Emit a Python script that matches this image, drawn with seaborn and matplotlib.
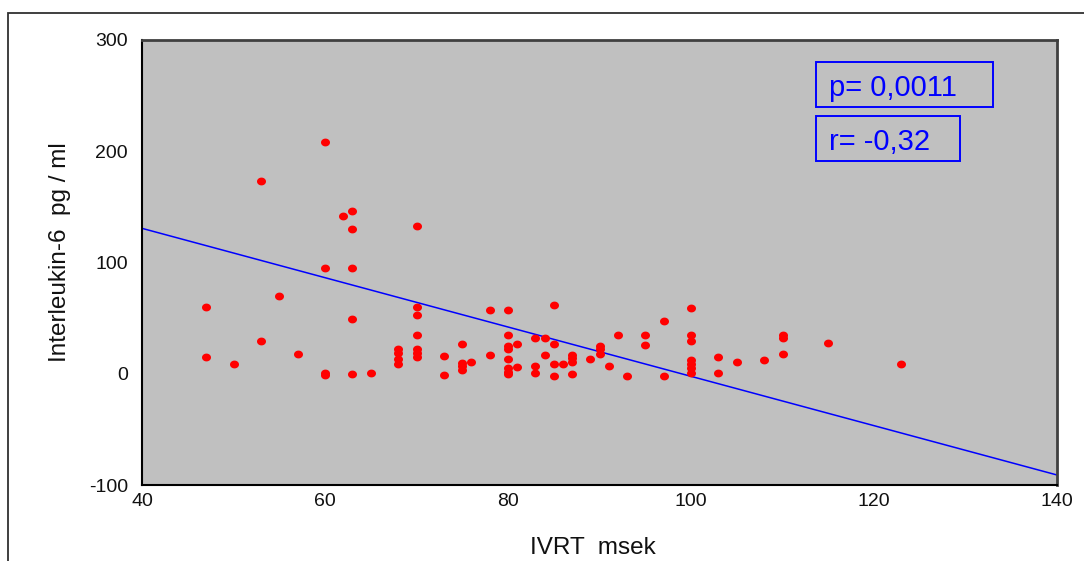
import numpy as np
import pandas as pd
import matplotlib
matplotlib.use("Agg")
import matplotlib.pyplot as plt
from matplotlib.patches import Rectangle
from matplotlib.path import Path
import seaborn as sns

# ---- data ----
ivrt = [60, 53, 62, 63, 63, 70, 60, 63, 55, 47, 63, 70, 70, 70, 53, 47, 50, 57,
        68, 68, 68, 68, 70, 70, 70, 60, 60, 63, 65,
        73, 73, 75, 75, 75, 75, 76, 78, 78, 80, 80, 80, 80, 80, 80, 80, 80,
        81, 81, 83, 83, 83, 84, 84, 85, 85, 85, 85, 86, 87, 87, 87, 87, 89,
        90, 90, 90, 91, 92, 93,
        95, 95, 97, 97, 100, 100, 100, 100, 100, 100, 100, 103, 103, 105, 108,
        110, 110, 110, 115, 123]
il6 = [208, 173, 142, 146, 130, 133, 95, 95, 70, 60, 49, 60, 53, 35, 29, 15, 9, 18,
       22, 19, 13, 9, 22, 19, 15, 1, -1, 0, 1,
       16, -1.5, 27, 10, 7, 3, 11, 57, 17, 57, 35, 25, 22, 13, 5, 2, 0,
       27, 6, 32, 7, 1, 32, 17, 62, 27, 9, -2, 9, 17, 14, 11, 0, 13,
       25, 22, 18, 7, 35, -2,
       35, 26, 47, -2, 59, 35, 29, 12, 9, 5, 1, 15, 1, 11, 12,
       35, 32, 18, 28, 9]

line_x = [40, 140]
line_y = [130.7, -91]

x_ticks = [40, 60, 80, 100, 120, 140]
y_ticks = [-100, 0, 100, 200, 300]
x_label = "IVRT  msek"
y_label = "Interleukin-6  pg / ml"
stat_p = "p= 0,0011"
stat_r = "r= -0,32"

df = pd.DataFrame({"IVRT": ivrt, "IL6": il6})
line_df = pd.DataFrame({"x": line_x, "y": line_y})

sns.set_theme(style="white")
plt.rcParams["font.family"] = ["Liberation Sans", "DejaVu Sans"]
plt.rcParams["axes.unicode_minus"] = False

W, H = 1084, 561
fig = plt.figure(figsize=(W / 100, H / 100), dpi=100)
L, R, T, B = 142, 1057, 40, 485
ax = fig.add_axes([L / W, 1 - B / H, (R - L) / W, (B - T) / H])
ax.set_facecolor("#c0c0c0")

# outer frame (top and left edges visible)
fig.patches.append(Rectangle((8 / W, -0.1), 1.2, (H - 13) / H + 0.1,
                             transform=fig.transFigure, fill=False,
                             edgecolor="#303030", linewidth=1.3))

# elliptical marker
t = np.linspace(0, 2 * np.pi, 40)
ell = Path(np.column_stack([1.15 * np.cos(t), np.sin(t)]), closed=True)

sns.lineplot(data=line_df, x="x", y="y", ax=ax, color="#0000ff", linewidth=1.1)
sns.scatterplot(data=df, x="IVRT", y="IL6", ax=ax, color="#ff0000",
                marker=ell, s=42, linewidth=0, zorder=3)

ax.set_xlim(40, 140)
ax.set_ylim(-100, 300)
ax.set_xticks(x_ticks)
ax.set_yticks(y_ticks)
ax.tick_params(axis="both", length=0, labelsize=14, colors="#111111")
ax.tick_params(axis="x", pad=6)
ax.tick_params(axis="y", pad=10)

ax.set_xlabel(x_label, fontsize=17.5, color="#111111")
ax.set_ylabel(y_label, fontsize=17.5, color="#111111")
ax.xaxis.label.set_va("center")
ax.yaxis.label.set_va("center")
ax.xaxis.set_label_coords((593 - L) / (R - L), (B - 548) / (B - T))
ax.yaxis.set_label_coords((60 - L) / (R - L), (B - 252) / (B - T))

for side in ["left", "bottom"]:
    ax.spines[side].set_color("black")
    ax.spines[side].set_linewidth(1.5)
for side in ["top", "right"]:
    ax.spines[side].set_color("#404040")
    ax.spines[side].set_linewidth(2)

# stats boxes (pixel-based placement)
def box(x0, y0, x1, y1, text):
    fig.patches.append(Rectangle((x0 / W, 1 - y1 / H), (x1 - x0) / W, (y1 - y0) / H,
                                 transform=fig.transFigure, fill=False,
                                 edgecolor="#0000ff", linewidth=1.4, zorder=5))
    fig.text(829 / W, 1 - ((y0 + y1) / 2) / H, text, color="#0000ff",
             fontsize=21, ha="left", va="center_baseline", zorder=6)

box(816, 62, 993, 107, stat_p)
box(816, 116, 960, 161, stat_r)

fig.savefig("out.png", dpi=100)
